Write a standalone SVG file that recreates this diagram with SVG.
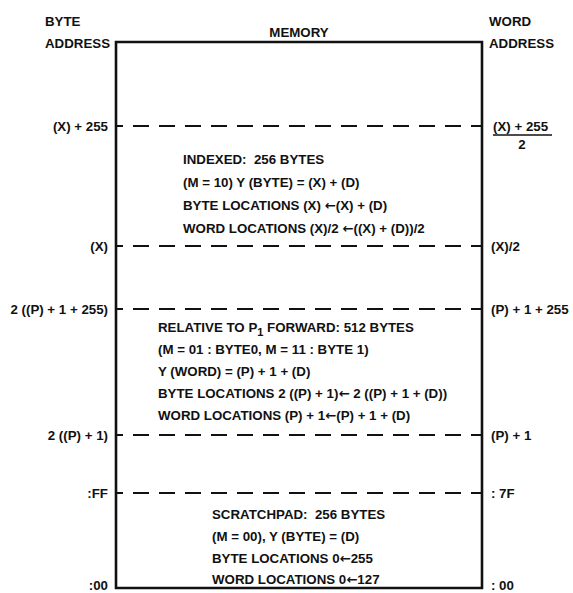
<svg xmlns="http://www.w3.org/2000/svg" width="573" height="593" viewBox="0 0 573 593">
<style>
text{font-family:"Liberation Sans",Arial,sans-serif;font-weight:bold;font-size:13.3px;fill:#111}
.r{text-anchor:end}
.m{text-anchor:middle}
.a{font-family:"DejaVu Sans",sans-serif;font-weight:bold}
.box{fill:none;stroke:#111;stroke-width:2.6}
.dash{stroke:#111;stroke-width:2;stroke-dasharray:16 10;stroke-dashoffset:10}
</style>
<rect width="573" height="593" fill="#fff"/>
<g id="headers">
<text x="45" y="26">BYTE</text>
<text x="45" y="48">ADDRESS</text>
<text class="m" x="299" y="37">MEMORY</text>
<text x="489" y="26">WORD</text>
<text x="489" y="48">ADDRESS</text>
</g>
<g id="memory">
<path class="box" d="M116,588 V42 H482 V588 Z"/>
</g>
<g id="connectors">
<line class="dash" x1="117" y1="126" x2="481" y2="126"/>
<line class="dash" x1="117" y1="246" x2="481" y2="246"/>
<line class="dash" x1="117" y1="309" x2="481" y2="309"/>
<line class="dash" x1="117" y1="435" x2="481" y2="435"/>
<line class="dash" x1="117" y1="493" x2="481" y2="493"/>
</g>
<g id="byte-addresses">
<text class="r" x="108" y="131">(X) + 255</text>
<text class="r" x="108" y="251">(X)</text>
<text class="r" x="108" y="314">2 ((P) + 1 + 255)</text>
<text class="r" x="108" y="440">2 ((P) + 1)</text>
<text class="r" x="108" y="498">:FF</text>
<text class="r" x="108" y="590">:00</text>
</g>
<g id="word-addresses">
<text x="493" y="131">(X) + 255</text>
<line x1="493" y1="135" x2="552" y2="135" stroke="#111" stroke-width="1.5"/>
<text class="m" x="522" y="149">2</text>
<text x="491" y="251">(X)/2</text>
<text x="491" y="314">(P) + 1 + 255</text>
<text x="491" y="440">(P) + 1</text>
<text x="491" y="498">: 7F</text>
<text x="491" y="590">: 00</text>
</g>
<g id="indexed">
<text x="183" y="164">INDEXED:&#160; 256 BYTES</text>
<text x="183" y="187">(M = 10) Y (BYTE) = (X) + (D)</text>
<text x="183" y="210">BYTE LOCATIONS (X) <tspan class="a">←</tspan>(X) + (D)</text>
<text x="183" y="233">WORD LOCATIONS (X)/2 <tspan class="a">←</tspan>((X) + (D))/2</text>
</g>
<g id="relative">
<text x="158" y="332">RELATIVE TO P<tspan dy="4" font-size="11">1</tspan><tspan dy="-4"> FORWARD: 512 BYTES</tspan></text>
<text x="158" y="354">(M = 01 : BYTE0, M = 11 : BYTE 1)</text>
<text x="158" y="376">Y (WORD) = (P) + 1 + (D)</text>
<text x="158" y="398">BYTE LOCATIONS 2 ((P) + 1)<tspan class="a">←</tspan> 2 ((P) + 1 + (D))</text>
<text x="158" y="420">WORD LOCATIONS (P) + 1<tspan class="a">←</tspan>(P) + 1 + (D)</text>
</g>
<g id="scratchpad">
<text x="212" y="519">SCRATCHPAD:&#160; 256 BYTES</text>
<text x="212" y="541">(M = 00), Y (BYTE) = (D)</text>
<text x="212" y="563">BYTE LOCATIONS 0<tspan class="a">←</tspan>255</text>
<text x="212" y="584">WORD LOCATIONS 0<tspan class="a">←</tspan>127</text>
</g>
</svg>
